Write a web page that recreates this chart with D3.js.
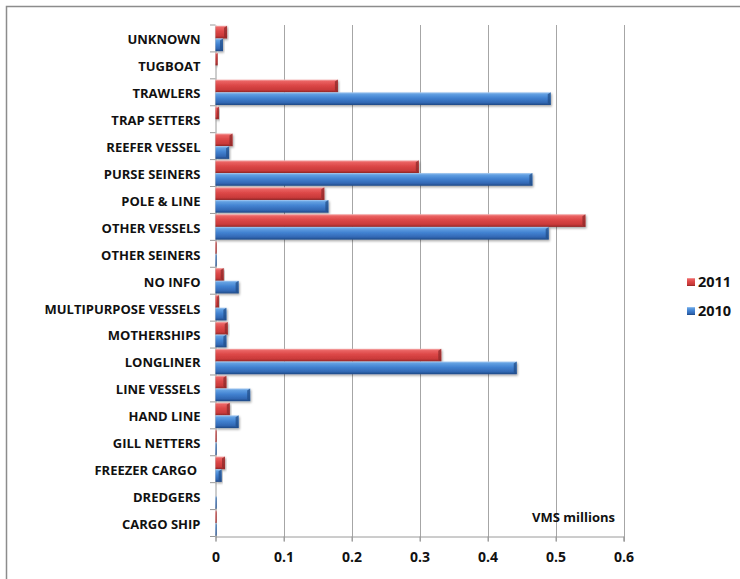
<!DOCTYPE html>
<html>
<head>
<meta charset="utf-8">
<script src="https://cdn.jsdelivr.net/npm/d3@7"></script>
<style>
  html, body { margin: 0; padding: 0; background: #fff; }
  svg { display: block; }
  text { font-family: "Open Sans", Lato, "DejaVu Sans", sans-serif; font-weight: 700; fill: #111; }
</style>
</head>
<body>
<script>
// Vessel categories, listed top to bottom
const categories = ["UNKNOWN", "TUGBOAT", "TRAWLERS", "TRAP SETTERS", "REEFER VESSEL",
  "PURSE SEINERS", "POLE & LINE", "OTHER VESSELS", "OTHER SEINERS", "NO INFO",
  "MULTIPURPOSE VESSELS", "MOTHERSHIPS", "LONGLINER", "LINE VESSELS", "HAND LINE",
  "GILL NETTERS", "FREEZER CARGO ", "DREDGERS", "CARGO SHIP"];

// VMS records (millions) per year
const values2011 = [0.017, 0.003, 0.180, 0.005, 0.025, 0.299, 0.160, 0.544, 0.001, 0.012,
  0.005, 0.018, 0.332, 0.016, 0.021, 0.001, 0.014, 0.000, 0.001];
const values2010 = [0.011, 0.000, 0.493, 0.000, 0.020, 0.466, 0.166, 0.490, 0.001, 0.034,
  0.016, 0.016, 0.443, 0.051, 0.034, 0.001, 0.009, 0.001, 0.0015];

const seriesNames = ["2011", "2010"];
const xTicks = [0, 0.1, 0.2, 0.3, 0.4, 0.5, 0.6];
const xTickLabels = ["0", "0.1", "0.2", "0.3", "0.4", "0.5", "0.6"];
const axisTitle = "VMS millions";

const W = 740, H = 579;
const svg = d3.select("body").append("svg").attr("width", W).attr("height", H);

const defs = svg.append("defs");
const palettes = {
  "2011": ["#f7b0b0", "#ea6262", "#dc4747", "#c93a3a", "#8f2626"],
  "2010": ["#a8cbf2", "#62a0e2", "#4282d1", "#3268b4", "#1f4884"]
};
const endShade = { "2011": "#8e2a2a", "2010": "#234f8a" };
seriesNames.forEach(s => {
  const g = defs.append("linearGradient").attr("id", "grad" + s)
    .attr("x1", 0).attr("y1", 0).attr("x2", 0).attr("y2", 1);
  const p = palettes[s];
  [[0, p[0]], [0.14, p[1]], [0.45, p[2]], [0.8, p[3]], [1, p[4]]].forEach(([o, c]) =>
    g.append("stop").attr("offset", o).attr("stop-color", c));
});
const shadow = defs.append("filter").attr("id", "shadow")
  .attr("x", "-5%").attr("y", "-30%").attr("width", "120%").attr("height", "180%");
shadow.append("feDropShadow").attr("dx", 1).attr("dy", 1.5).attr("stdDeviation", 1)
  .attr("flood-color", "#000").attr("flood-opacity", 0.35);

// Outer frame
svg.append("path").attr("d", `M6.5,${H} L6.5,6.5 L${W},6.5`)
  .attr("fill", "none").attr("stroke", "#8c8c8c").attr("stroke-width", 1.5);

const x = d3.scaleLinear().domain([0, 0.6]).range([215.5, 623.5]);
const y = d3.scaleBand().domain(categories).range([25, 536.5]);
const ySub = d3.scaleBand().domain(seriesNames).range([0, y.bandwidth()]).paddingOuter(0.06);

// Vertical gridlines
svg.append("g").selectAll("line").data(xTicks.slice(1)).join("line")
  .attr("x1", d => Math.round(x(d)) + 0.5).attr("x2", d => Math.round(x(d)) + 0.5)
  .attr("y1", 25).attr("y2", 541.5)
  .attr("stroke", "#a6a6a6").attr("stroke-width", 1);

// x axis
const xAxis = svg.append("g").attr("transform", `translate(0,536.5)`)
  .call(d3.axisBottom(x).tickValues(xTicks).tickFormat((d, i) => xTickLabels[i])
    .tickSize(5).tickPadding(11));
xAxis.select(".domain").attr("stroke", "#9a9a9a");
xAxis.selectAll(".tick line").attr("stroke", "#9a9a9a");
xAxis.selectAll("text").style("font-size", "14px").attr("fill", "#111");

// y axis with category ticks at band boundaries
const yAxis = svg.append("g").attr("transform", `translate(215.5,0)`)
  .call(d3.axisLeft(y).tickSize(0).tickPadding(15));
yAxis.select(".domain").attr("stroke", "#9a9a9a");
yAxis.selectAll("text").style("font-size", "13px").style("white-space", "pre")
  .attr("dy", "0.45em").attr("fill", "#111");
svg.append("g").selectAll("line").data(categories.map((c) => y(c)).concat([536.5])).join("line")
  .attr("x1", 210).attr("x2", 215.5).attr("y1", d => d).attr("y2", d => d)
  .attr("stroke", "#9a9a9a");

// Bars
const rows = categories.map((c, i) => ({ cat: c, vals: [
  { s: "2011", v: values2011[i] }, { s: "2010", v: values2010[i] }] }));
const groups = svg.append("g").selectAll("g").data(rows).join("g")
  .attr("transform", d => `translate(0,${y(d.cat)})`);
const bars = groups.selectAll("g").data(d => d.vals.filter(e => e.v > 0)).join("g")
  .attr("filter", "url(#shadow)");
bars.append("rect")
  .attr("x", x(0)).attr("y", d => ySub(d.s))
  .attr("width", d => Math.max(1, x(d.v) - x(0))).attr("height", ySub.bandwidth())
  .attr("fill", d => "url(#grad" + d.s + ")");
// Bevelled end face
bars.append("path")
  .attr("d", d => {
    const x1 = x(0) + Math.max(1, x(d.v) - x(0)), y0 = ySub(d.s), h = ySub.bandwidth();
    const b = Math.min(3, (x1 - x(0)) / 2);
    return `M${x1 - b},${y0 + 2} L${x1},${y0} L${x1},${y0 + h} L${x1 - b},${y0 + h - 2} Z`;
  })
  .attr("fill", d => endShade[d.s]).attr("opacity", 0.75);

// Axis title inside the plot
svg.append("text").attr("x", 615).attr("y", 522).attr("text-anchor", "end")
  .style("font-size", "13px").text(axisTitle);

// Legend
const legend = svg.append("g").selectAll("g").data(seriesNames).join("g")
  .attr("transform", (d, i) => `translate(687,${278 + i * 29})`);
legend.append("rect").attr("width", 8).attr("height", 8)
  .attr("fill", d => "url(#grad" + d + ")");
legend.append("text").attr("x", 11).attr("y", 4).attr("dy", "0.36em")
  .style("font-size", "14.5px").text(d => d);
</script>
</body>
</html>
